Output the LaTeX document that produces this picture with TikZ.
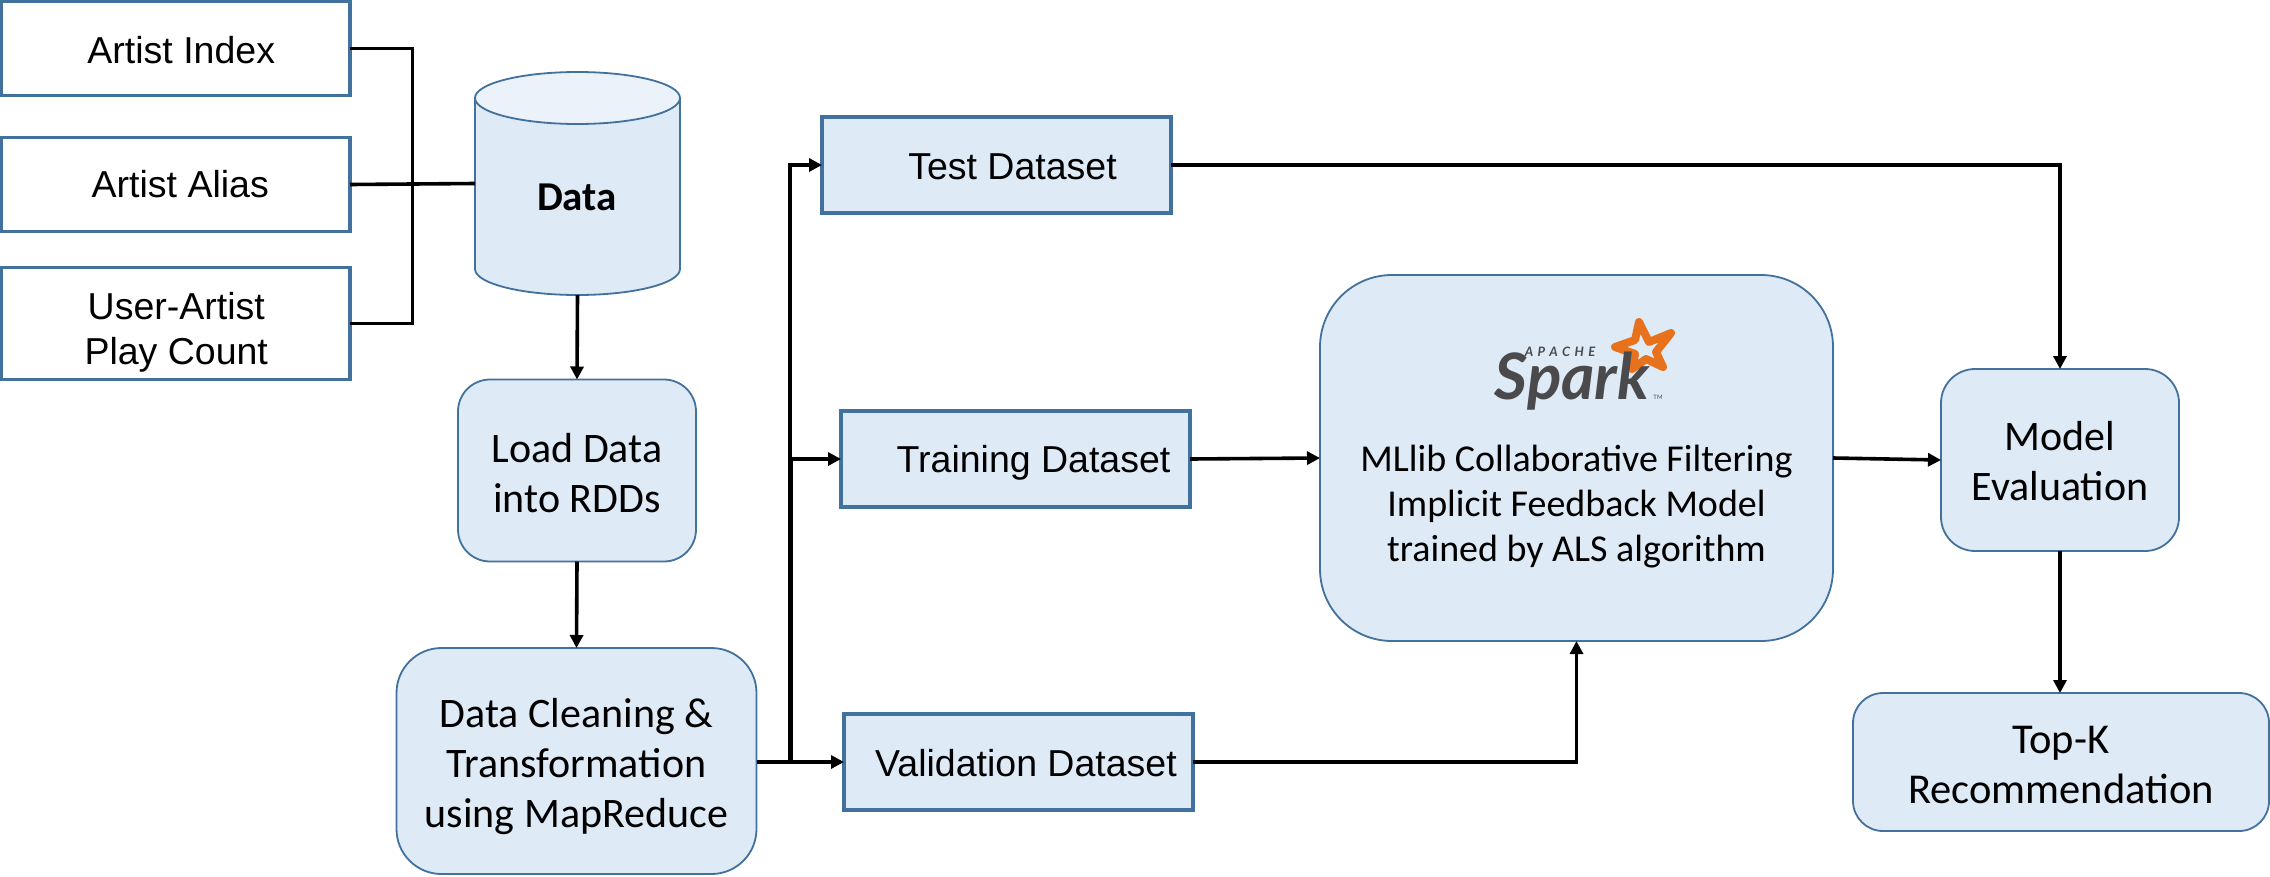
\documentclass[tikz,border=0pt]{standalone}
\usepackage{fontspec}
\setmainfont{Carlito}
\newfontfamily\arialf{Liberation Sans}
\newfontfamily\logof{Lato}
\usetikzlibrary{arrows.meta,calc}
\definecolor{bfill}{HTML}{DEEAF6}
\definecolor{bedge}{HTML}{41719C}
\definecolor{btop}{HTML}{EBF2FA}
\definecolor{logogray}{HTML}{4A4A4C}
\definecolor{logoorange}{HTML}{E8711C}
\tikzset{
  x=1pt,y=-1pt,
  rawbox/.style={draw=bedge,line width=3.6pt,fill=white,outer sep=0pt,inner sep=0pt},
  dsbox/.style={rawbox,fill=bfill},
  roundbox/.style={draw=bedge,line width=1.8pt,fill=bfill,rounded corners=#1,outer sep=0pt,inner sep=0pt},
  roundbox/.default=32pt,
  flow/.style={draw=black,line width=3.6pt},
  arrow/.style={flow,-{Triangle[length=13pt,width=13pt]}},
  lbl/.style={font=\arialf\fontsize{37.5}{45}\selectfont,text=black,align=center},
  rlbl/.style={font=\fontsize{42}{50}\selectfont,text=black,align=center}
}
\begin{document}
\begin{tikzpicture}
\useasboundingbox (0,0) rectangle (2270,876);
% source boxes
\node[rawbox,minimum width=348.5pt,minimum height=94pt,label={[lbl,shift={(5.5pt,-1.5pt)}]center:Artist Index}] (ai) at (175.75,48.5) {};
\node[rawbox,minimum width=348.5pt,minimum height=94pt,label={[lbl,shift={(4.5pt,0pt)}]center:Artist Alias}] (aa) at (175.75,184.5) {};
\node[rawbox,minimum width=348.5pt,minimum height=112pt,label={[lbl,shift={(0.5pt,-8.5pt)}]center:User-Artist\\Play Count}] (ua) at (175.75,323.5) {};
% cylinder
\fill[bfill] (475,98) -- (475,269) arc[start angle=180,end angle=360,x radius=102.5,y radius=-26] -- (680,98) -- cycle;
\draw[bedge,line width=1.8pt] (475,98) -- (475,269) arc[start angle=180,end angle=360,x radius=102.5,y radius=-26] -- (680,98);
\draw[bedge,line width=1.8pt,fill=btop] (577.5,98) ellipse[x radius=102.5,y radius=26];
\node[minimum width=205pt,minimum height=223pt,inner sep=0pt,outer sep=0pt] (db) at (577.5,183.5) {};
\node[font=\bfseries\fontsize{41}{45}\selectfont] (dblabel) at (577,197) {Data};
% process boxes
\node[roundbox,minimum width=238pt,minimum height=182pt,label={[rlbl,shift={(0pt,-3pt)}]center:Load Data\\into RDDs}] (load) at (577,470.5) {};
\node[roundbox=45pt,minimum width=360pt,minimum height=226pt,label={[rlbl,shift={(0pt,-5.5pt)}]center:Data Cleaning \&\\Transformation\\using MapReduce}] (clean) at (576.5,761) {};
\node[dsbox,minimum width=349pt,minimum height=96pt,label={[lbl,shift={(16pt,-1.5pt)}]center:Test Dataset}] (test) at (996.5,165) {};
\node[dsbox,minimum width=349pt,minimum height=96pt,label={[lbl,shift={(18pt,-4pt)}]center:Training Dataset}] (train) at (1015.5,459) {};
\node[dsbox,minimum width=349pt,minimum height=96pt,label={[lbl,shift={(7.5pt,-1.5pt)}]center:Validation Dataset}] (valid) at (1018.5,762) {};
\node[roundbox=72pt,minimum width=513pt,minimum height=366pt] (mllib) at (1576.5,458) {};
\node[font=\fontsize{38}{45}\selectfont,align=center] (mltext) at (1576.5,506.5) {MLlib Collaborative Filtering\\Implicit Feedback Model\\trained by ALS algorithm};
\node[roundbox=34pt,minimum width=238pt,minimum height=182pt,label={[rlbl,shift={(0pt,-1.5pt)}]center:Model\\Evaluation}] (eval) at (2060,460) {};
\node[roundbox=30pt,minimum width=416pt,minimum height=138pt,label={[rlbl,font=\fontsize{42.5}{50}\selectfont,shift={(0pt,-3pt)}]center:Top-K\\Recommendation}] (topk) at (2061,762) {};
% spark logo
\draw[logoorange,line width=8pt,line join=round,fill=bfill]
  (1639,322) -- (1649,342) -- (1671,333) -- (1656,352) -- (1663,367) -- (1646,359) -- (1632,369) -- (1635,354) -- (1615,347) -- (1635,340) -- cycle;
\node[font=\logof\bfseries\itshape\fontsize{64}{64}\selectfont,text=logogray,inner sep=0pt] (spark) at (1572,381) {Spark};
\node[font=\logof\bfseries\itshape\fontsize{13}{13}\selectfont,text=logogray,inner sep=0pt] (apache) at (1560,352) {A\,\,P\,\,A\,\,C\,\,H\,\,E};
\node[font=\logof\fontsize{6}{6}\selectfont,text=logogray,inner sep=0pt] (tm) at (1658,397) {TM};
% connectors
\coordinate (bus) at (412.6,183);
\draw[flow] (ai.east) -| (bus) |- (ua.east);
\draw[flow] (aa.east) -- (db.west);
\draw[arrow] (db.south) -- (load.north);
\draw[arrow] (load.south) -- (clean.north);
\coordinate (fork) at (790,762);
\draw[arrow] (clean.east |- fork) -- (valid.west);
\draw[arrow] (fork) |- (test.west);
\draw[arrow] (791,762) |- (train.west);
\draw[arrow] (test.east) -| (eval.north);
\draw[arrow] (train.east) -- (mllib.west);
\draw[arrow] (mllib.east) -- (eval.west);
\draw[arrow] (eval.south) -- (topk.north -| eval.south);
\draw[arrow] (valid.east) -| (mllib.south);
\end{tikzpicture}
\end{document}
